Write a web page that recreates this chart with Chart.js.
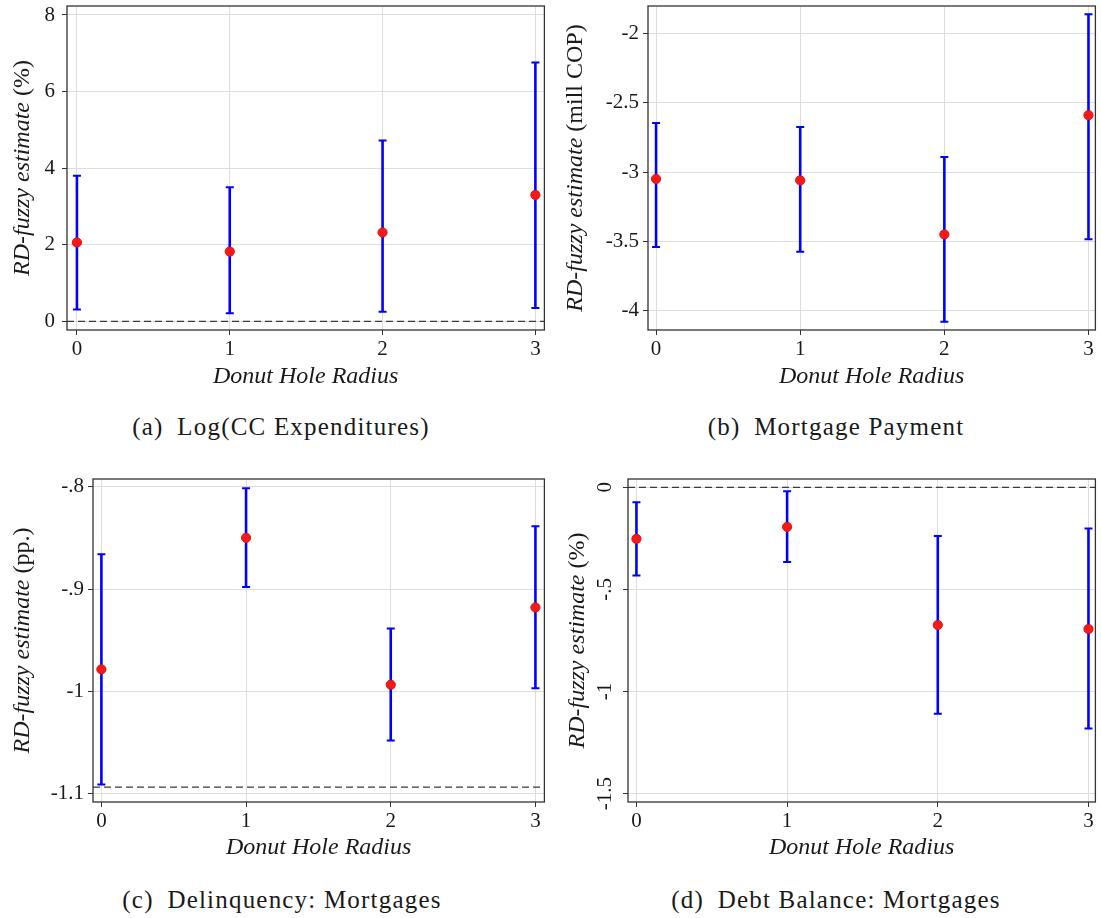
<!DOCTYPE html>
<html>
<head>
<meta charset="utf-8">
<title>Donut hole robustness</title>
<script src="https://cdn.jsdelivr.net/npm/chart.js@4.4.1/dist/chart.umd.min.js"></script>
<style>
  body { margin: 0; background: #fff; }
  #page { position: relative; width: 1101px; height: 918px; font-family: "Liberation Serif", serif; color: #1a1a1a; }
  canvas { position: absolute; }
  .caption { position: absolute; font-size: 25px; letter-spacing: 1.2px; white-space: nowrap; transform: translate(-50%, -50%); }
</style>
</head>
<body>
<div id="page">
  <canvas id="chartA" width="550" height="395" style="left:0;top:0"></canvas>
  <canvas id="chartB" width="551" height="395" style="left:550px;top:0"></canvas>
  <canvas id="chartC" width="550" height="397" style="left:0;top:470px"></canvas>
  <canvas id="chartD" width="551" height="397" style="left:550px;top:470px"></canvas>
  <div class="caption" style="left:281px;top:427px">(a)&ensp;Log(CC Expenditures)</div>
  <div class="caption" style="left:836px;top:427px">(b)&ensp;Mortgage Payment</div>
  <div class="caption" style="left:282px;top:900px">(c)&ensp;Delinquency: Mortgages</div>
  <div class="caption" style="left:836px;top:900px">(d)&ensp;Debt Balance: Mortgages</div>
</div>
<script>
// x axis: donut hole radius
const radius = [0, 1, 2, 3];
const radiusLabels = ['0', '1', '2', '3'];

// (a) Log(CC Expenditures)
const ccEst = [2.06, 1.82, 2.32, 3.30];
const ccLow = [0.31, 0.21, 0.25, 0.35];
const ccHigh = [3.80, 3.50, 4.72, 6.76];
const ccTicks = [0, 2, 4, 6, 8];
const ccTickLabels = ['0', '2', '4', '6', '8'];
const ccRef = 0;

// (b) Mortgage payment
const payEst = [-3.05, -3.06, -3.45, -2.59];
const payLow = [-3.54, -3.575, -4.08, -3.485];
const payHigh = [-2.647, -2.675, -2.892, -1.863];
const payTicks = [-4, -3.5, -3, -2.5, -2];
const payTickLabels = ['-4', '-3.5', '-3', '-2.5', '-2'];
const payRef = null;

// (c) Delinquency: mortgages
const delEst = [-0.9785, -0.850, -0.9935, -0.918];
const delLow = [-1.091, -0.898, -1.048, -0.997];
const delHigh = [-0.866, -0.8016, -0.9385, -0.8387];
const delTicks = [-1.1, -1, -0.9, -0.8];
const delTickLabels = ['-1.1', '-1', '-.9', '-.8'];
const delRef = -1.0935;

// (d) Debt balance: mortgages
const debtEst = [-0.2525, -0.194, -0.674, -0.694];
const debtLow = [-0.4316, -0.366, -1.109, -1.181];
const debtHigh = [-0.0733, -0.0195, -0.238, -0.202];
const debtTicks = [-1.5, -1, -0.5, 0];
const debtTickLabels = ['-1.5', '-1', '-.5', '0'];
const debtRef = 0;

const ink = '#1a1a1a';
const family = '"Liberation Serif", serif';
const gridColor = '#dedede';

function makePanel(id, p) {
  const datasets = [{
    label: 'estimate',
    data: radius.map((r, i) => ({ x: r, y: p.est[i] })),
    pointRadius: 4.6,
    pointHoverRadius: 4.6,
    pointBackgroundColor: '#f51a1a',
    pointBorderColor: '#e01010',
    pointBorderWidth: 1,
    showLine: false,
    order: 0
  }];
  if (p.ref !== null) {
    datasets.push({
      type: 'line',
      label: 'reference',
      data: [{ x: p.xMin, y: p.ref }, { x: p.xMax, y: p.ref }],
      borderColor: '#3a3a3a',
      borderWidth: 1.3,
      borderDash: [7, 4],
      pointRadius: 0,
      order: 2
    });
  }

  const panelPlugin = {
    id: 'panelExtras',
    beforeDatasetsDraw(chart) {
      const { ctx, scales: { x, y } } = chart;
      ctx.save();
      ctx.strokeStyle = '#0000ff';
      radius.forEach((r, i) => {
        const px = x.getPixelForValue(r);
        const lo = y.getPixelForValue(p.low[i]);
        const hi = y.getPixelForValue(p.high[i]);
        ctx.lineWidth = 2.6;
        ctx.beginPath();
        ctx.moveTo(px, lo);
        ctx.lineTo(px, hi);
        ctx.stroke();
        ctx.lineWidth = 2;
        ctx.beginPath();
        ctx.moveTo(px - 4, lo); ctx.lineTo(px + 4, lo);
        ctx.moveTo(px - 4, hi); ctx.lineTo(px + 4, hi);
        ctx.stroke();
      });
      ctx.restore();
    },
    afterDraw(chart) {
      const { ctx, chartArea: a } = chart;
      ctx.save();
      // plot frame
      ctx.strokeStyle = '#333';
      ctx.lineWidth = 1.3;
      ctx.strokeRect(a.left, a.top, a.right - a.left, a.bottom - a.top);
      // y title, italic part + upright unit
      ctx.translate(a.left - p.titleGap, (a.top + a.bottom) / 2);
      ctx.rotate(-Math.PI / 2);
      ctx.fillStyle = ink;
      ctx.textBaseline = 'middle';
      ctx.textAlign = 'left';
      const itFont = 'italic 24px ' + family;
      const upFont = '24px ' + family;
      ctx.font = itFont;
      const w1 = ctx.measureText(p.yTitle[0]).width;
      ctx.font = upFont;
      const w2 = ctx.measureText(p.yTitle[1]).width;
      const x0 = -(w1 + w2) / 2;
      ctx.font = itFont;
      ctx.fillText(p.yTitle[0], x0, 0);
      ctx.font = upFont;
      ctx.fillText(p.yTitle[1], x0 + w1, 0);
      ctx.restore();
    }
  };

  new Chart(document.getElementById(id), {
    type: 'scatter',
    data: { datasets },
    options: {
      responsive: false,
      animation: false,
      events: [],
      layout: { padding: { top: p.padTop, right: p.padRight, left: 0, bottom: 0 } },
      plugins: { legend: { display: false }, tooltip: { enabled: false } },
      scales: {
        x: {
          type: 'linear',
          min: p.xMin,
          max: p.xMax,
          afterBuildTicks: s => { s.ticks = radius.map(v => ({ value: v })); },
          afterFit: s => { s.height = 65; s.paddingLeft = 0; s.paddingRight = 0; },
          ticks: { font: { family, size: 21 }, color: ink, padding: 2, callback: (v, i) => radiusLabels[i] },
          grid: { color: gridColor, tickColor: '#333', tickLength: 5 },
          border: { display: false },
          title: {
            display: true,
            text: 'Donut Hole Radius',
            font: { family, size: 24, style: 'italic' },
            color: ink,
            padding: { top: 0, bottom: p.xTitlePad }
          }
        },
        y: {
          type: 'linear',
          min: p.yMin,
          max: p.yMax,
          afterBuildTicks: s => { s.ticks = p.ticks.map(v => ({ value: v })); },
          afterFit: s => { s.width = p.yWidth; s.paddingTop = 0; s.paddingBottom = 0; },
          ticks: {
            font: { family, size: 21 },
            color: ink,
            padding: p.tickPad,
            minRotation: p.rot,
            maxRotation: p.rot,
            crossAlign: p.rot ? 'center' : 'near',
            callback: (v, i) => p.tickLabels[i]
          },
          grid: { color: gridColor, tickColor: '#333', tickLength: 5 },
          border: { display: false }
        }
      }
    },
    plugins: [panelPlugin]
  });
}

makePanel('chartA', {
  est: ccEst, low: ccLow, high: ccHigh, ticks: ccTicks, tickLabels: ccTickLabels, ref: ccRef,
  xMin: -0.065, xMax: 3.059, yMin: -0.227, yMax: 8.235,
  yWidth: 67, padTop: 6, padRight: 3, tickPad: 7, rot: 0, titleGap: 44, xTitlePad: 3.6,
  yTitle: ['RD-fuzzy estimate', ' (%)']
});
makePanel('chartB', {
  est: payEst, low: payLow, high: payHigh, ticks: payTicks, tickLabels: payTickLabels, ref: payRef,
  xMin: -0.056, xMax: 3.048, yMin: -4.139, yMax: -1.803,
  yWidth: 98, padTop: 6, padRight: 1, tickPad: 4, rot: 0, titleGap: 72, xTitlePad: 3.6,
  yTitle: ['RD-fuzzy estimate', ' (mill COP)']
});
makePanel('chartC', {
  est: delEst, low: delLow, high: delHigh, ticks: delTicks, tickLabels: delTickLabels, ref: delRef,
  xMin: -0.058, xMax: 3.062, yMin: -1.1081, yMax: -0.7925,
  yWidth: 93, padTop: 9, padRight: 3, tickPad: 4, rot: 0, titleGap: 70, xTitlePad: 4.6,
  yTitle: ['RD-fuzzy estimate', ' (pp.)']
});
makePanel('chartD', {
  est: debtEst, low: debtLow, high: debtHigh, ticks: debtTicks, tickLabels: debtTickLabels, ref: debtRef,
  xMin: -0.056, xMax: 3.046, yMin: -1.5406, yMax: 0.0406,
  yWidth: 78, padTop: 9, padRight: 1, tickPad: 1, rot: 90, titleGap: 50, xTitlePad: 4.6,
  yTitle: ['RD-fuzzy estimate', ' (%)']
});
</script>
</body>
</html>
